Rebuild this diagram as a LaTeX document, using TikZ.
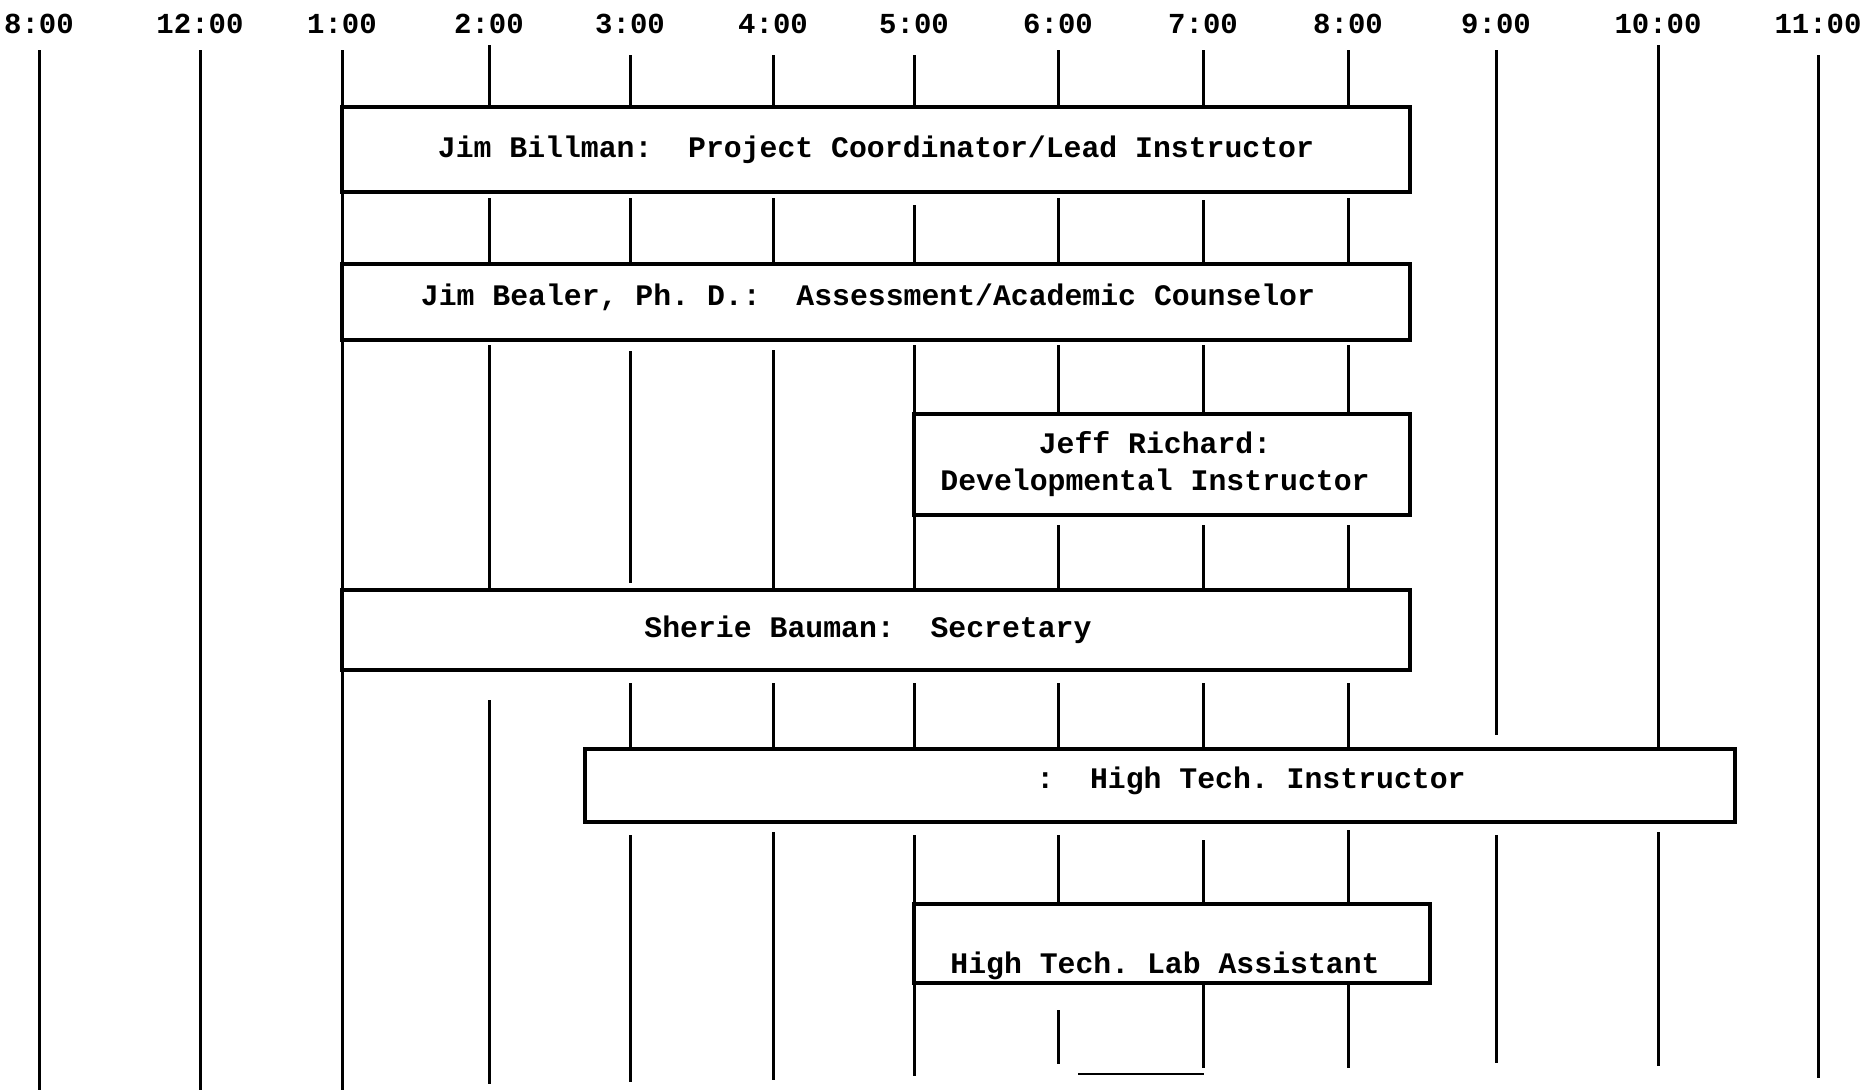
\documentclass[tikz,border=0pt]{standalone}
\usepackage{fontspec}
\setmonofont{Liberation Mono}
\begin{document}
\begin{tikzpicture}[x=0.5pt,y=-0.5pt,
  grid/.style={line width=1.5pt},
  boxline/.style={line width=1.9pt, fill=white},
  lbl/.style={font=\fontsize{14.9}{17}\selectfont\ttfamily\bfseries, anchor=base, inner sep=0pt},
  tlbl/.style={font=\fontsize{14.5}{16}\selectfont\ttfamily\bfseries, anchor=base, inner sep=0pt}]
\useasboundingbox (0,0) rectangle (1864,1092);
% time labels
\node[tlbl] (t1) at (39,33) {8:00};
\node[tlbl] (t2) at (200,33) {12:00};
\node[tlbl] (t3) at (342,33) {1:00};
\node[tlbl] (t4) at (489,33) {2:00};
\node[tlbl] (t5) at (630,33) {3:00};
\node[tlbl] (t6) at (773,33) {4:00};
\node[tlbl] (t7) at (914,33) {5:00};
\node[tlbl] (t8) at (1058,33) {6:00};
\node[tlbl] (t9) at (1203,33) {7:00};
\node[tlbl] (t10) at (1348,33) {8:00};
\node[tlbl] (t11) at (1496,33) {9:00};
\node[tlbl] (t12) at (1658,33) {10:00};
\node[tlbl] (t13) at (1818,33) {11:00};
% grid line segments
\foreach \x/\a/\b in {39/50/1090, 200/50/1090, 342/50/1090,
  489/45/107, 489/198/264, 489/345/590, 489/700/1084,
  630/55/107, 630/198/264, 630/351/583, 630/683/749, 630/835/1082,
  773/55/107, 773/198/264, 773/350/590, 773/683/749, 773/832/1080,
  914/55/107, 914/205/264, 914/345/590, 914/683/749, 914/835/1076,
  1058/50/107, 1058/198/264, 1058/345/414, 1058/525/590, 1058/683/749, 1058/835/904, 1058/1010/1064,
  1203/50/107, 1203/200/264, 1203/345/414, 1203/525/590, 1203/683/749, 1203/840/904, 1203/985/1068,
  1348/50/107, 1348/198/264, 1348/345/414, 1348/525/590, 1348/683/749, 1348/830/1068,
  1496/50/735, 1496/835/1063,
  1658/45/749, 1658/832/1066,
  1818/55/1078}
  \draw[grid] (\x,\a) -- (\x,\b);
% boxes
\draw[boxline] (342,107) rectangle (1410,192);
\node[lbl] (billman) at (876,157) {Jim Billman:\ \ Project Coordinator/Lead Instructor};
\draw[boxline] (342,264) rectangle (1410,340);
\node[lbl] (bealer) at (868,305) {Jim Bealer, Ph. D.:\ \ Assessment/Academic Counselor};
\draw[boxline] (914,414) rectangle (1410,515);
\node[lbl] (richard1) at (1155,453) {Jeff Richard:};
\node[lbl] (richard2) at (1155,490) {Developmental Instructor};
\draw[boxline] (342,590) rectangle (1410,670);
\node[lbl] (bauman) at (868,637) {Sherie Bauman:\ \ Secretary};
\draw[boxline] (585,749) rectangle (1735,822);
\node[lbl] (hti) at (1251,788) {:\ \ High Tech. Instructor};
\draw[boxline] (914,904) rectangle (1430,983);
\node[lbl] (htla) at (1165,973) {High Tech. Lab Assistant};
\draw[line width=0.8pt] (1078,1074) -- (1204,1074);
\end{tikzpicture}
\end{document}
